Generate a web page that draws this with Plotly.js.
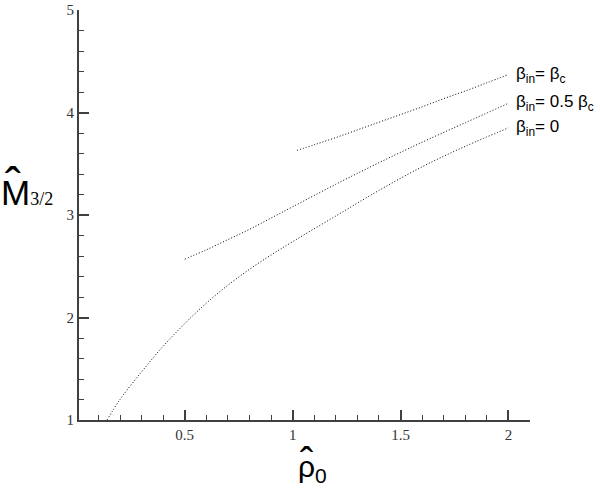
<!DOCTYPE html>
<html>
<head>
<meta charset="utf-8">
<script src="https://cdn.plot.ly/plotly-3.0.1.min.js"></script>
<style>html,body{margin:0;padding:0;background:#fff}#chart{width:600px;height:494px}</style>
</head>
<body>
<div id="chart"></div>
<script>
// Data
var xBc = [1.02, 1.10, 1.20, 1.30, 1.40, 1.50, 1.60, 1.70, 1.80, 1.90, 2.00];
var yBc = [3.63, 3.685, 3.755, 3.83, 3.905, 3.98, 4.055, 4.135, 4.21, 4.29, 4.37];

var xHalf = [0.50, 0.60, 0.70, 0.80, 0.90, 1.00, 1.20, 1.40, 1.60, 1.80, 2.00];
var yHalf = [2.57, 2.66, 2.76, 2.86, 2.97, 3.08, 3.30, 3.51, 3.71, 3.90, 4.09];

var xZero = [0.14, 0.20, 0.30, 0.40, 0.50, 0.60, 0.70, 0.80, 0.90, 1.00, 1.20, 1.40, 1.60, 1.80, 2.00];
var yZero = [1.00, 1.20, 1.47, 1.72, 1.94, 2.14, 2.315, 2.47, 2.61, 2.74, 2.99, 3.24, 3.47, 3.67, 3.85];

var seriesLabels = [
  'β<sub>in</sub>= β<sub>c</sub>',
  'β<sub>in</sub>= 0.5 β<sub>c</sub>',
  'β<sub>in</sub>= 0'
];
var xTickVals = [0.5, 1, 1.5, 2];
var xTickText = ['0.5', '1', '1.5', '2'];
var yTickVals = [1, 2, 3, 4, 5];
var yTickText = ['1', '2', '3', '4', '5'];

var lineStyle = {color: '#000', width: 1, dash: '1px,2px', shape: 'spline'};
var traces = [
  {x: xBc, y: yBc, mode: 'lines', line: lineStyle, hoverinfo: 'skip'},
  {x: xHalf, y: yHalf, mode: 'lines', line: lineStyle, hoverinfo: 'skip'},
  {x: xZero, y: yZero, mode: 'lines', line: lineStyle, hoverinfo: 'skip'}
];

var sans = 'Liberation Sans, Arial, sans-serif';
var ends = [[xBc, yBc], [xHalf, yHalf], [xZero, yZero]];
var annotations = ends.map(function (s, i) {
  return {
    x: s[0][s[0].length - 1] + 0.028, y: s[1][s[1].length - 1],
    xref: 'x', yref: 'y', xanchor: 'left', yanchor: 'middle',
    text: seriesLabels[i], showarrow: false,
    font: {family: sans, size: 17, color: '#000'}
  };
});
// y-axis title: M with hat and 3/2
annotations.push({
  xref: 'paper', yref: 'y', x: -0.178, y: 3.22, xanchor: 'left', yanchor: 'middle',
  text: 'M<span style="font-family:\'Liberation Serif\',serif;font-size:18px">3/2</span>',
  showarrow: false,
  font: {family: sans, size: 35, color: '#000'}
});
annotations.push({
  xref: 'paper', yref: 'y', x: -0.146, y: 3.30, xanchor: 'center', yanchor: 'middle',
  text: 'ˆ', showarrow: false,
  font: {family: sans, size: 48, color: '#000'}
});
// x-axis title: rho with hat and subscript 0
annotations.push({
  xref: 'x', yref: 'paper', x: 1.09, y: -0.118, xanchor: 'center', yanchor: 'middle',
  text: 'ρ<sub>0</sub>',
  showarrow: false,
  font: {family: sans, size: 30, color: '#000'}
});
annotations.push({
  xref: 'x', yref: 'paper', x: 1.062, y: -0.102, xanchor: 'center', yanchor: 'middle',
  text: 'ˆ', showarrow: false,
  font: {family: sans, size: 40, color: '#000'}
});

var axisCommon = {
  showline: true, linecolor: '#404040', linewidth: 2,
  ticks: 'inside', ticklen: 10, tickwidth: 2, tickcolor: '#404040',
  showgrid: false, zeroline: false, mirror: false,
  tickfont: {family: 'Liberation Serif, Times New Roman, serif', size: 15, color: '#333'},
  tickmode: 'array'
};

var layout = {
  width: 600, height: 494,
  margin: {l: 79, r: 70, t: 10, b: 74},
  paper_bgcolor: '#fff', plot_bgcolor: '#fff',
  showlegend: false,
  xaxis: Object.assign({}, axisCommon, {
    range: [0.01, 2.1], tickvals: xTickVals, ticktext: xTickText,
    minor: {dtick: 0.1, tick0: 0, ticks: 'inside', ticklen: 5, tickwidth: 1, tickcolor: '#404040', showgrid: false}
  }),
  yaxis: Object.assign({}, axisCommon, {
    range: [1, 5], tickvals: yTickVals, ticktext: yTickText,
    minor: {dtick: 0.2, tick0: 0, ticks: 'inside', ticklen: 5, tickwidth: 1, tickcolor: '#404040', showgrid: false}
  }),
  annotations: annotations
};

Plotly.newPlot('chart', traces, layout, {staticPlot: true, displayModeBar: false});
</script>
</body>
</html>
